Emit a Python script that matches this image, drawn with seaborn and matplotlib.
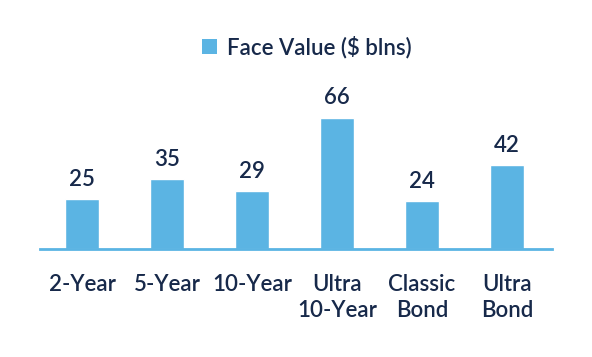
import matplotlib
matplotlib.use('Agg')
import matplotlib.pyplot as plt
from matplotlib.patches import Patch
import seaborn as sns

# chart data
categories = ['2-Year', '5-Year', '10-Year', 'Ultra\n10-Year', 'Classic\nBond', 'Ultra\nBond']
face_value = [25, 35, 29, 66, 24, 42]
series_name = 'Face Value ($ blns)'

BAR_CLR = '#5bb4e3'
TXT_CLR = '#17294a'

sns.set_style('white')
plt.rcParams['font.family'] = ['Lato', 'DejaVu Sans']
plt.rcParams['font.weight'] = 'semibold'

fig = plt.figure(figsize=(5.92, 3.57), dpi=100)
ax = fig.add_axes([0.0676, 0.3025, 0.8649, 0.4734])

sns.barplot(x=categories, y=face_value, color=BAR_CLR, width=0.4,
            saturation=1, ax=ax)

ax.set_xlim(-0.494, 5.53)
ax.set_ylim(0, 85)

# value labels on top of bars
for cont in ax.containers:
    ax.bar_label(cont, padding=7, fontsize=16, color=TXT_CLR, fontweight='semibold')

# only the baseline remains
for s in ['top', 'left', 'right']:
    ax.spines[s].set_visible(False)
ax.spines['bottom'].set_color(BAR_CLR)
ax.spines['bottom'].set_linewidth(2)
ax.set_yticks([])
ax.set_xlabel('')
ax.set_ylabel('')
ax.tick_params(axis='x', length=0, pad=18, labelsize=16, labelcolor=TXT_CLR)
for lbl in ax.get_xticklabels():
    lbl.set_verticalalignment('top')
    lbl.set_linespacing(1.3)
    lbl.set_fontweight('semibold')

# legend
handle = Patch(facecolor=BAR_CLR, edgecolor='none')
fig.legend([handle], [series_name], loc='center', bbox_to_anchor=(0.518, 0.868),
           frameon=False, prop={'size': 16, 'weight': 'semibold'},
           labelcolor=TXT_CLR, handlelength=0.7, handleheight=0.7,
           handletextpad=0.45)

fig.savefig('out.png', dpi=100)
